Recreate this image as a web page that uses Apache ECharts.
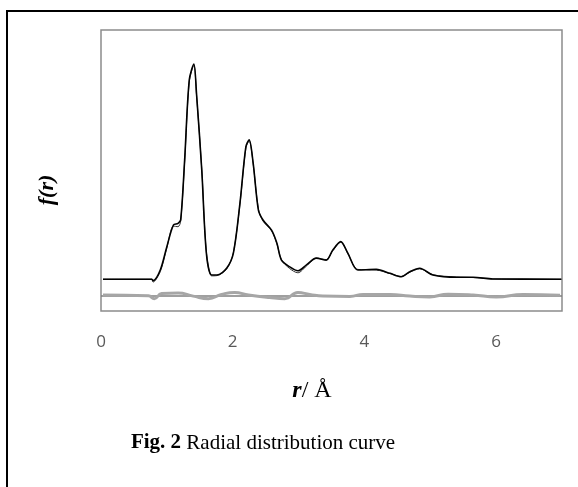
<!DOCTYPE html>
<html>
<head>
<meta charset="utf-8">
<script src="https://cdn.jsdelivr.net/npm/echarts@6/dist/echarts.min.js"></script>
<style>
html,body{margin:0;padding:0;background:#fff;}
#chart{width:578px;height:487px;}
</style>
</head>
<body>
<div id="chart"></div>
<script>
// r (Å) values and f(r) readings (arbitrary units)
var expR = [0.03,0.77,0.79,0.90,1.00,1.10,1.17,1.21,1.27,1.34,1.41,1.45,1.53,1.60,1.68,1.76,1.91,2.01,2.11,2.20,2.25,2.31,2.39,2.46,2.59,2.67,2.74,2.86,2.99,3.12,3.27,3.42,3.52,3.64,3.75,3.90,4.18,4.39,4.56,4.69,4.84,5.04,5.40,5.65,5.95,6.99];
var expF = [11.3,11.3,10.8,14.6,22.9,30.6,31.2,32.4,53.7,82.2,87.9,77.5,50.2,20.6,12.8,12.8,15.3,20.6,38.4,58.5,60.9,52.7,35.9,32.4,28.8,24.2,18.1,15.8,14.3,16.4,18.8,18.1,21.7,24.7,20.5,14.6,14.8,13.4,12.2,14.0,15.2,12.8,12.0,12.0,11.4,11.3];
var fitF = [11.3,11.3,10.3,14.0,22.5,30.2,30.0,32.0,53.0,81.5,87.5,77.0,50.5,21.0,12.5,12.6,15.0,20.8,38.0,58.0,60.5,52.5,36.3,32.0,28.5,24.0,18.3,15.2,13.6,16.0,18.8,18.3,21.5,24.5,20.3,14.8,14.6,13.3,12.3,13.8,15.0,12.9,12.1,11.9,11.4,11.3];
var diffR = [0.03,0.72,0.81,0.92,1.17,1.40,1.63,1.83,2.03,2.24,2.56,2.79,2.99,3.17,3.37,3.78,3.98,4.39,4.69,4.99,5.27,5.65,6.00,6.41,6.97];
var diffF = [5.7,5.4,4.4,6.2,6.4,5.3,4.4,5.9,6.6,5.7,4.8,4.4,6.6,5.9,5.3,5.2,5.9,5.9,5.3,5.0,6.0,5.7,5.0,5.9,5.6];
var zeroLevel = 5.3;
var xTicks = [0, 2, 4, 6];
var xMin = 0, xMax = 7, xStep = 2;
var yLabel = 'f(r)';
var xLabelVar = 'r';
var xLabelUnit = '/ Å';
var captionBold = 'Fig. 2';
var captionText = ' Radial distribution curve';

function pairs(xs, ys){ return xs.map(function(x,i){ return [x, ys[i]]; }); }

var chart = echarts.init(document.getElementById('chart'), null, {renderer:'canvas'});
chart.setOption({
  animation: false,
  backgroundColor: '#fff',
  grid: {left: 101, top: 30, width: 461, height: 281, show: true, borderColor: '#8c8c8c', borderWidth: 1.5, backgroundColor: 'transparent'},
  xAxis: {
    type: 'value', min: xMin, max: xMax, interval: xStep,
    axisLine: {show: false}, axisTick: {show: false}, splitLine: {show: false},
    axisLabel: {color: '#595959', fontSize: 17, fontFamily: 'Open Sans', margin: 23,
      formatter: function(v){ return xTicks.indexOf(v) >= 0 ? String(v) : ''; }}
  },
  yAxis: {
    type: 'value', min: 0, max: 100,
    axisLine: {show: false}, axisTick: {show: false}, splitLine: {show: false}, axisLabel: {show: false}
  },
  series: [
    {type: 'line', data: [[xMin, zeroLevel],[xMax, zeroLevel]], showSymbol: false, lineStyle: {color: '#7f7f7f', width: 1.5}, z: 1},
    {type: 'line', data: pairs(diffR, diffF), smooth: 0.5, showSymbol: false, lineStyle: {color: '#a6a6a6', width: 3}, z: 2},
    {type: 'line', data: pairs(expR, fitF), smooth: 0.3, showSymbol: false, lineStyle: {color: '#333', width: 1}, z: 3},
    {type: 'line', data: pairs(expR, expF), smooth: 0.3, showSymbol: false, lineStyle: {color: '#000', width: 1.6}, z: 4}
  ],
  graphic: [
    {type: 'rect', shape: {x: 7, y: 11, width: 620, height: 520}, style: {fill: 'none', stroke: '#000', lineWidth: 2}, silent: true},
    {type: 'text', x: 47, y: 190, rotation: Math.PI/2,
      style: {text: yLabel, font: 'italic bold 22px "Liberation Serif"', fill: '#000', textAlign: 'center', textVerticalAlign: 'middle'}},
    {type: 'text', x: 312, y: 391,
      style: {text: '{a|' + xLabelVar + '}{b|' + xLabelUnit + '}', textAlign: 'center', textVerticalAlign: 'middle',
        rich: {a: {fontFamily: 'Liberation Serif', fontStyle: 'italic', fontWeight: 'bold', fontSize: 24, fill: '#000'},
               b: {fontFamily: 'Liberation Serif', fontSize: 24, fill: '#000'}}}},
    {type: 'text', x: 263, y: 443,
      style: {text: '{a|' + captionBold + '}{b|' + captionText + '}', textAlign: 'center', textVerticalAlign: 'middle',
        rich: {a: {fontFamily: 'Liberation Serif', fontWeight: 'bold', fontSize: 21, fill: '#000'},
               b: {fontFamily: 'Liberation Serif', fontSize: 21, fill: '#000'}}}}
  ]
});
</script>
</body>
</html>
